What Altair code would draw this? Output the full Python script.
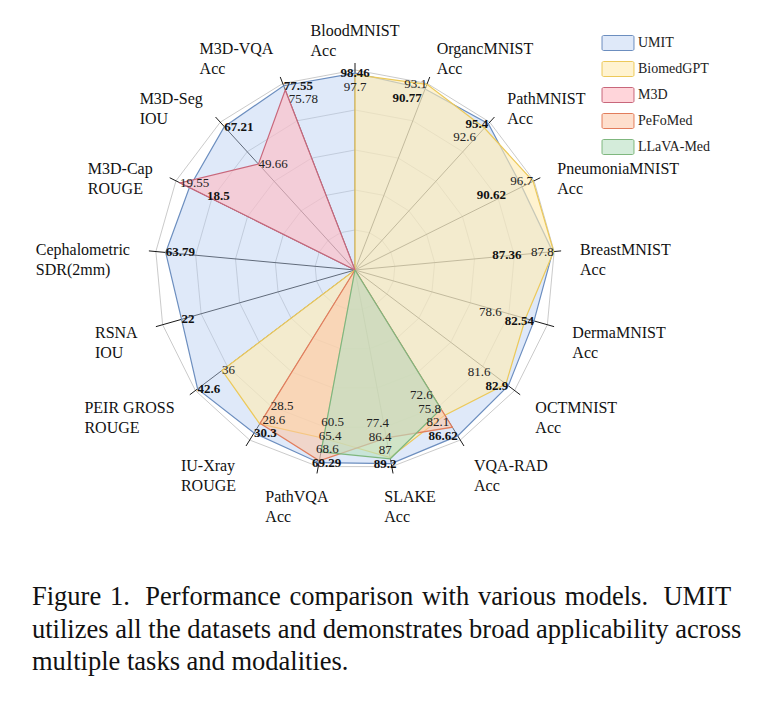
import math
import altair as alt
import pandas as pd

# ---------------- data ----------------
axis_names = ["BloodMNIST", "OrgancMNIST", "PathMNIST", "PneumoniaMNIST", "BreastMNIST",
              "DermaMNIST", "OCTMNIST", "VQA-RAD", "SLAKE", "PathVQA", "IU-Xray",
              "PEIR GROSS", "RSNA", "Cephalometric", "M3D-Cap", "M3D-Seg", "M3D-VQA"]
axis_metrics = ["Acc", "Acc", "Acc", "Acc", "Acc", "Acc", "Acc", "Acc", "Acc", "Acc",
                "ROUGE", "ROUGE", "IOU", "SDR(2mm)", "ROUGE", "IOU", "Acc"]
# per-axis scale maximum (value drawn on the outer ring)
axis_max = [100, 93.5, 96.4, 97.2, 88, 88.7, 86.3, 88.8, 90.6, 70.7, 31.6, 43.2, 24.4, 67.1, 20, 69.3, 78.5]

models = ["UMIT", "BiomedGPT", "M3D", "PeFoMed", "LLaVA-Med"]
umit      = [98.46, 90.77, 95.4, 90.62, 87.36, 82.54, 82.9, 86.62, 89.2, 69.29, 30.3, 42.6, 22, 63.79, 18.5, 67.21, 77.55]
biomedgpt = [97.7, 93.1, 92.6, 96.7, 87.8, 78.6, 81.6, 75.8, 86.4, 60.5, 28.6, 36, 0, 0, 0, 0, 0]
m3d       = [0, 0, 0, 0, 0, 0, 0, 0, 0, 0, 0, 0, 0, 0, 19.55, 49.66, 75.78]
pefomed   = [0, 0, 0, 0, 0, 0, 0, 82.1, 77.4, 68.6, 28.5, 0, 0, 0, 0, 0, 0]
llava_med = [0, 0, 0, 0, 0, 0, 0, 72.6, 87, 65.4, 0, 0, 0, 0, 0, 0, 0]
series = [umit, biomedgpt, m3d, pefomed, llava_med]

caption = ["Figure\u200a 1.\u00a0\u200a Performance\u200a comparison\u200a with\u200a various\u200a models.\u00a0\u200a UMIT",
           "utilizes all the datasets and demonstrates broad applicability across",
           "multiple tasks and modalities."]

# ---------------- style ----------------
fill_colors = ["rgba(184,206,242,0.45)", "rgba(255,236,179,0.62)", "rgba(255,188,196,0.62)",
               "rgba(253,196,164,0.55)", "rgba(186,224,196,0.62)"]
stroke_colors = ["#6c8ebf", "#ecc95a", "#c8677b", "#e27d5c", "#7fb77e"]
FONT = "Liberation Serif"
R_PX = 200.0
W, H = 748, 552
CX, CY = 347.0, 262.0  # centre in view px
N = len(axis_names)

# Times metrics (per 1000 em) for width estimation
TW = {' ': 250, '(': 333, ')': 333, '-': 333, '.': 250, '2': 500, '3': 500,
      'A': 722, 'B': 667, 'C': 667, 'D': 722, 'E': 611, 'G': 722, 'I': 333, 'K': 722,
      'L': 611, 'M': 889, 'N': 722, 'O': 722, 'P': 556, 'Q': 722, 'R': 667, 'S': 556,
      'T': 611, 'U': 722, 'V': 722, 'X': 722,
      'a': 444, 'c': 444, 'd': 500, 'e': 444, 'g': 500, 'h': 500, 'i': 278, 'l': 278,
      'm': 778, 'n': 500, 'o': 500, 'p': 500, 'r': 333, 's': 389, 't': 278, 'y': 500}


def text_w(s, fs):
    return sum(TW.get(ch, 500) for ch in s) / 1000.0 * fs


def direction(i):
    a = 2 * math.pi * i / N
    return math.sin(a), math.cos(a)


def fmt(v):
    return ("%g" % v)


U = 1.0 / R_PX  # one pixel in data units
xs = alt.Scale(domain=[-CX * U, (W - CX) * U], nice=False, zero=False)
ys = alt.Scale(domain=[(CY - H) * U, CY * U], nice=False, zero=False)
X = lambda f: alt.X(f, type="quantitative", scale=xs, axis=None)
Y = lambda f: alt.Y(f, type="quantitative", scale=ys, axis=None)

# ---------------- grid rings ----------------
ring_rows = []
for lvl in [0.2, 0.4, 0.6, 0.8, 1.0]:
    for k in range(N + 1):
        s, c = direction(k % N)
        ring_rows.append(dict(ring=lvl, k=k, x=lvl * s, y=lvl * c))
rings = alt.Chart(pd.DataFrame(ring_rows)).mark_line(color="#c4c4c4", strokeWidth=0.9).encode(
    x=X("x"), y=Y("y"), detail="ring:N", order="k:Q")

# ---------------- axis spokes ----------------
spoke_rows = []
for i in range(N):
    s, c = direction(i)
    spoke_rows.append(dict(x=0.0, y=0.0, x2=1.035 * s, y2=1.035 * c))
spokes = alt.Chart(pd.DataFrame(spoke_rows)).mark_rule(color="#1a1a1a", strokeWidth=1).encode(
    x=X("x"), y=Y("y"), x2="x2:Q", y2="y2:Q")

# ---------------- polygons ----------------
rounded_box = ("M-1.93,-1H1.93A0.2,0.2 0 0 1 2.13,-0.8V0.8A0.2,0.2 0 0 1 1.93,1"
               "H-1.93A0.2,0.2 0 0 1 -2.13,0.8V-0.8A0.2,0.2 0 0 1 -1.93,-1Z")
leg = alt.Legend(title=None, orient="none", legendX=602, legendY=27,
                 symbolType=rounded_box, symbolSize=225, symbolStrokeWidth=1,
                 labelFont=FONT, labelFontSize=14, labelColor="#222", labelOffset=12,
                 rowPadding=6, padding=0, symbolOpacity=1)
fill_scale = alt.Scale(domain=models, range=fill_colors)
stroke_scale = alt.Scale(domain=models, range=stroke_colors)

poly_layers = []
for m, vals in zip(models, series):
    rows = []
    for k in range(N + 1):
        i = k % N
        r = vals[i] / axis_max[i]
        s, c = direction(i)
        rows.append(dict(model=m, k=k, x=r * s, y=r * c))
    poly_layers.append(
        alt.Chart(pd.DataFrame(rows)).mark_line(strokeWidth=1.2, strokeJoin="miter").encode(
            x=X("x"), y=Y("y"), order="k:Q",
            fill=alt.Fill("model:N", scale=fill_scale, legend=leg),
            stroke=alt.Stroke("model:N", scale=stroke_scale, legend=leg)))

# ---------------- value labels ----------------
VFS = 13
val_rows = []
for i in range(N):
    s, c = direction(i)
    items = []
    for m, vals in zip(models, series):
        if vals[i] > 0:
            items.append((vals[i] / axis_max[i], fmt(vals[i]), m == "UMIT"))
    items.sort(key=lambda t: -t[0])
    prev_r, prev_w = None, 0
    f = 0.5 + 0.5 * max(-1.0, min(1.0, s / 0.35))
    for r, txt, bold in items:
        w = text_w(txt, VFS)
        if prev_r is not None:
            ww = max(w, prev_w) + 3
            cand = []
            if abs(s) > 1e-6:
                cand.append(ww / abs(s))
            if abs(c) > 1e-6:
                cand.append(13.5 / abs(c))
            d = min(cand) * U
            r = min(r, prev_r - d)
        px, py = r * s, r * c
        val_rows.append(dict(x=px - f * w * U, y=py, t=txt, bold=bold))
        prev_r, prev_w = r, w
vdf = pd.DataFrame(val_rows)
val_normal = alt.Chart(vdf[~vdf.bold]).mark_text(
    align="left", baseline="middle", font=FONT, fontSize=VFS, color="#222").encode(
    x=X("x"), y=Y("y"), text="t:N")
val_bold = alt.Chart(vdf[vdf.bold]).mark_text(
    align="left", baseline="middle", font=FONT, fontSize=VFS, fontWeight="bold", color="#111").encode(
    x=X("x"), y=Y("y"), text="t:N")

# ---------------- axis name labels ----------------
AFS = 16
LH = 20
lab_rows = []
for i in range(N):
    s, c = direction(i)
    px, py = 1.13 * s, 1.13 * c
    off = 12 - 14 * max(0.0, c) ** 4 + 4 * max(0.0, -c) ** 2   # px downward shift of block centre
    centre_y = py - off * U
    b1 = centre_y + 6.5 * U                     # first baseline (data y is upward)
    wblock = max(text_w(axis_names[i], AFS), text_w(axis_metrics[i], AFS))
    f = 0.5 - 0.5 * max(-1.0, min(1.0, s / 0.35))
    left = px - f * wblock * U
    lab_rows.append(dict(x=left, y=b1, t=axis_names[i]))
    lab_rows.append(dict(x=left, y=b1 - LH * U, t=axis_metrics[i]))
labels = alt.Chart(pd.DataFrame(lab_rows)).mark_text(
    align="left", baseline="alphabetic", font=FONT, fontSize=AFS, color="#111").encode(
    x=X("x"), y=Y("y"), text="t:N")

chart = alt.layer(rings, spokes, *poly_layers, val_normal, val_bold, labels).properties(
    width=W, height=H, padding=0,
    title=alt.TitleParams(text=caption, orient="bottom", anchor="start", font=FONT,
                          fontSize=26.5, fontWeight="normal", color="#111", lineHeight=32.5,
                          offset=24, dx=24)
).configure_view(stroke=None).configure_legend(labelFont=FONT, labelFontSize=14)

chart.save("out.html", embed_options={"renderer": "svg", "actions": False})
